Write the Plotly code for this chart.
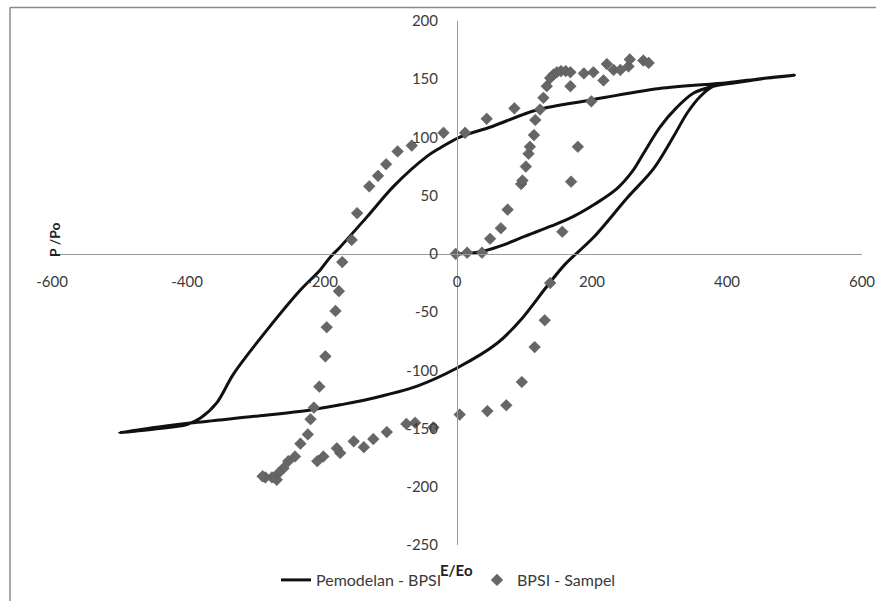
import plotly.graph_objects as go

# ---- model curve: Pemodelan - BPSI (E/Eo, P/Po) ----
model_E = [0, 20, 40, 70, 100, 140, 172, 205, 237, 260, 276, 301, 326, 350, 380, 420, 460, 500,
           450, 400, 300, 197, 118, 50, 5, -25, -45, -94, -133, -173, -188, -203, -232, -281,
           -331, -356, -380, -400, -450, -500,
           -395, -300, -217, -173, -133, -59, 0, 59, 94, 133, 160, 202, 252, 291, 321, 341,
           360, 380, 420, 460, 500]
model_P = [0, 0.5, 2.5, 8, 15, 24, 32, 43, 56, 71, 86, 109, 126, 138, 144, 147.5, 151, 153.5,
           150.5, 147, 142, 132, 123.6, 109, 100.5, 91, 83.5, 58, 32, 6, -3, -14, -31, -65,
           -103, -128, -141, -146.5, -150.5, -153.5,
           -145.3, -139.5, -134, -129.6, -125, -113.5, -98, -77, -57, -28, -9, 14, 48, 73, 101, 121,
           135, 144, 147.5, 151, 153.5]

# ---- measured sample: BPSI - Sampel ----
sample_E = [-2, 15, 37,
            49, 65, 75, 95, 97, 102, 106, 108, 114, 116, 123, 128, 133, 138, 143, 148, 154, 161, 168,
            188, 202, 222, 232, 242, 254, 256, 276, 284,
            168, 217, 199, 179, 169, 156, 138, 130, 115, 96, 73, 45, 4,
            -35, -62, -75, -104, -124, -138, -153, -173, -178, -198, -207,
            -240, -250, -257, -264, -267, -274, -284, -288,
            -232, -221, -217, -212, -204, -195, -193, -180, -175, -170, -156, -148, -130, -117,
            -105, -88, -67, -20, 12, 44, 85]
sample_P = [0, 1, 1,
            13, 22, 38, 60, 63, 75, 86, 92, 102, 115, 124, 134, 144, 151, 154, 156, 157, 157, 156,
            155, 156, 163, 158, 158, 161, 167, 166, 164,
            144, 149, 131, 92, 62, 19, -25, -57, -80, -110, -130, -135, -138,
            -149, -145, -146, -153, -159, -166, -161, -171, -167, -174, -178,
            -174, -178, -184, -188, -194, -192, -192, -191,
            -163, -155, -142, -132, -114, -88, -63, -49, -32, -7, 12, 35, 58, 67,
            77, 88, 93, 104, 104, 116, 125]

x_ticks = [-600, -400, -200, 0, 200, 400, 600]
y_ticks = [-250, -200, -150, -100, -50, 0, 50, 100, 150, 200]
x_range = [-600, 600]
y_range = [-250, 200]

W, H = 876, 601
ML, MR, MT, MB = 52, 14, 21, 56
PW, PH = W - ML - MR, H - MT - MB


def px_to_paper(px, py):
    return (px - ML) / PW, (H - MB - py) / PH


FONT = "Lato"
TEXT = "#3a3a3a"
AXIS = "#9a9a9a"

fig = go.Figure()
fig.add_trace(go.Scatter(
    x=model_E, y=model_P, mode="lines", name="Pemodelan - BPSI",
    line=dict(color="#111111", width=3, shape="spline", smoothing=0.9),
))
fig.add_trace(go.Scatter(
    x=sample_E, y=sample_P, mode="markers", name="BPSI - Sampel",
    marker=dict(symbol="diamond", size=9, color="#666666",
                line=dict(color="#555555", width=0.5)),
))

# axes cross at the origin
x_pos = (0 - y_range[0]) / (y_range[1] - y_range[0])
y_pos = (0 - x_range[0]) / (x_range[1] - x_range[0])

fig.update_xaxes(
    range=x_range, tickvals=x_ticks, ticktext=[str(v) for v in x_ticks],
    anchor="free", position=x_pos, showline=True, linecolor=AXIS, linewidth=1,
    showgrid=False, zeroline=False, ticks="", ticklabelstandoff=14, automargin=False,
    tickfont=dict(family=FONT, size=15, color=TEXT), fixedrange=True,
)
fig.update_yaxes(
    range=y_range, tickvals=y_ticks, ticktext=[str(v) for v in y_ticks],
    anchor="free", position=y_pos, showline=True, linecolor=AXIS, linewidth=1,
    showgrid=False, zeroline=False, ticks="", ticklabelstandoff=16, automargin=False,
    tickfont=dict(family=FONT, size=15, color=TEXT), fixedrange=True,
)

# outer chart frame (left and top edges)
fx0, fy0 = px_to_paper(10, 7.5)
fx1, _ = px_to_paper(W + 2, 7.5)
_, fy1 = px_to_paper(10, H + 2)
shapes = [
    dict(type="line", xref="paper", yref="paper", x0=fx0, y0=fy0, x1=fx1, y1=fy0,
         line=dict(color="#8a8a8a", width=1.5)),
    dict(type="line", xref="paper", yref="paper", x0=fx0, y0=fy0, x1=fx0, y1=fy1,
         line=dict(color="#8a8a8a", width=1.5)),
]

tx, ty = px_to_paper(456, 570)
yx, yy = px_to_paper(55, 240)
annotations = [
    dict(text="<b>E/Eo</b>", x=tx, y=ty, xref="paper", yref="paper", showarrow=False,
         xanchor="center", yanchor="middle", font=dict(family=FONT, size=15, color="#222222")),
    dict(text="<b>P /Po</b>", x=yx, y=yy, xref="paper", yref="paper", showarrow=False,
         textangle=-90, xanchor="center", yanchor="middle",
         font=dict(family=FONT, size=14, color="#222222")),
]

fig.update_layout(
    width=W, height=H,
    margin=dict(l=ML, r=MR, t=MT, b=MB, pad=0, autoexpand=False),
    paper_bgcolor="white", plot_bgcolor="rgba(0,0,0,0)",
    showlegend=True,
    legend=dict(orientation="h", xref="container", yref="container",
                x=276 / W, y=1 - 580 / H, xanchor="left", yanchor="middle",
                font=dict(family=FONT, size=16, color=TEXT), bgcolor="rgba(0,0,0,0)",
                itemwidth=30, entrywidth=156, entrywidthmode="pixels"),
    shapes=shapes, annotations=annotations,
)

fig.write_html("out.html", config={"displayModeBar": False})
